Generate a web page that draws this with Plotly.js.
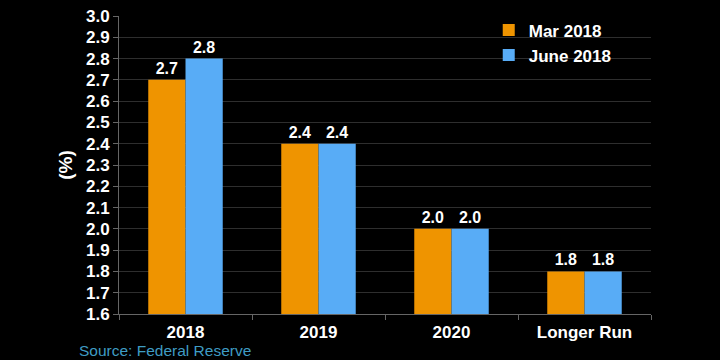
<!DOCTYPE html>
<html>
<head>
<meta charset="utf-8">
<script src="https://cdn.plot.ly/plotly-3.0.1.min.js"></script>
<style>html,body{margin:0;padding:0;background:#000;}#chart{width:720px;height:360px;}</style>
</head>
<body>
<div id="chart"></div>
<script>
const categories = ["2018", "2019", "2020", "Longer Run"];
const mar2018 = [2.7, 2.4, 2.0, 1.8];
const june2018 = [2.8, 2.4, 2.0, 1.8];
const yTicks = [1.6, 1.7, 1.8, 1.9, 2.0, 2.1, 2.2, 2.3, 2.4, 2.5, 2.6, 2.7, 2.8, 2.9, 3.0];

const font = "Liberation Sans, Arial, sans-serif";
const labelFont = {family: font, size: 16, color: "#ffffff", weight: "bold"};

const traces = [
  {type: "bar", name: "Mar 2018", x: categories, y: mar2018,
   marker: {color: "#ef9400", line: {width: 0}}, texttemplate: "%{y:.1f}", textposition: "outside",
   textfont: labelFont, cliponaxis: false},
  {type: "bar", name: "June 2018", x: categories, y: june2018,
   marker: {color: "#58acf6", line: {width: 0}}, texttemplate: "%{y:.1f}", textposition: "outside",
   textfont: labelFont, cliponaxis: false}
];

const layout = {
  width: 720, height: 360,
  paper_bgcolor: "#000000", plot_bgcolor: "#000000",
  margin: {l: 119, r: 69, t: 16, b: 46},
  barmode: "group", bargap: 0.44, bargroupgap: 0,
  showlegend: true,
  legend: {x: 0.695, y: 1.012, xanchor: "left", yanchor: "top", bgcolor: "rgba(0,0,0,0)",
           font: {family: font, size: 17, color: "#ffffff", weight: "bold"},
           itemwidth: 30, tracegroupgap: 1},
  xaxis: {type: "category", tickson: "boundaries", ticks: "outside", ticklen: 5,
          tickcolor: "#666666", showline: true, linecolor: "#666666", linewidth: 1,
          ticklabelstandoff: 3,
          showgrid: false, tickfont: {family: font, size: 17, color: "#ffffff", weight: "bold"}},
  yaxis: {range: [1.6, 3.0], tickvals: yTicks, ticktext: yTicks.map(v => v.toFixed(1)),
          ticks: "outside", ticklen: 5, tickcolor: "#666666",
          showline: true, linecolor: "#666666", linewidth: 1,
          showgrid: true, gridcolor: "#2e2e2e", gridwidth: 1, zeroline: false,
          tickfont: {family: font, size: 17, color: "#ffffff", weight: "bold"},
          title: {text: "(%)", standoff: 8, font: {family: font, size: 19, color: "#ffffff", weight: "bold"}}},
  annotations: [
    {text: "Source: Federal Reserve", xref: "paper", yref: "paper", x: -0.079, y: -0.158,
     xanchor: "left", yanchor: "bottom", showarrow: false,
     font: {family: font, size: 15.5, color: "#3f9cc4"}}
  ]
};

Plotly.newPlot("chart", traces, layout, {displayModeBar: false, staticPlot: true});
</script>
</body>
</html>
